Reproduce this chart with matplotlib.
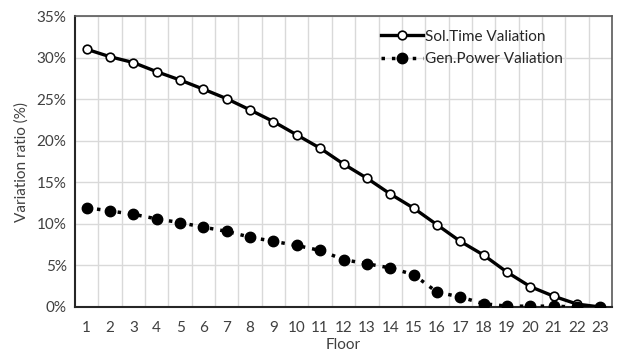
import matplotlib.pyplot as plt
from matplotlib.ticker import FuncFormatter, MultipleLocator

floors = list(range(1, 24))
sol_time = [31.0, 30.1, 29.4, 28.3, 27.3, 26.2, 25.05, 23.7, 22.3, 20.7,
            19.1, 17.2, 15.5, 13.6, 11.9, 9.9, 7.9, 6.25, 4.2, 2.45,
            1.3, 0.35, 0.0]
gen_power = [11.95, 11.55, 11.15, 10.6, 10.15, 9.6, 9.1, 8.4, 7.9, 7.4,
             6.8, 5.7, 5.2, 4.7, 3.9, 1.8, 1.2, 0.4, 0.1, 0.1,
             0.1, 0.0, 0.0]

plt.rcParams['font.family'] = ['Lato', 'DejaVu Sans']

fig = plt.figure(figsize=(6.18, 3.54), dpi=100)
ax = fig.add_axes([75 / 618, 47 / 354, 537 / 618, 291 / 354])

ax.plot(floors, sol_time, color='black', lw=2.4, marker='o', ms=6.2,
        mfc='white', mec='black', mew=1.2, label='Sol.Time Valiation', zorder=3)
ax.plot(floors, gen_power, color='black', lw=2.5, ls=(0, (1, 2)), marker='o',
        ms=7.5, mfc='black', mec='black', label='Gen.Power Valiation', zorder=3)

ax.set_xlim(0.5, 23.5)
ax.set_ylim(0, 35)
ax.set_xticks(floors)
ax.set_xticks([f + 0.5 for f in floors[:-1]], minor=True)
ax.yaxis.set_major_locator(MultipleLocator(5))
ax.yaxis.set_major_formatter(FuncFormatter(lambda v, p: f'{v:.0f}%'))
ax.grid(False)
ax.grid(True, which='minor', axis='x', color='#d9d9d9', lw=1)
ax.grid(True, which='major', axis='y', color='#d9d9d9', lw=1)
ax.set_axisbelow(True)
ax.tick_params(which='both', length=0, labelsize=11, colors='#404040', pad=10)
ax.tick_params(axis='y', pad=6)

for side in ['top', 'right']:
    ax.spines[side].set_color('#595959')
    ax.spines[side].set_linewidth(1.2)
for side in ['left', 'bottom']:
    ax.spines[side].set_color('#262626')
    ax.spines[side].set_linewidth(1.5)

ax.set_xlabel('Floor', fontsize=11, color='#404040', labelpad=2)
ax.set_ylabel('Variation ratio (%)', fontsize=11, color='#404040', labelpad=6)

ax.legend(loc='upper left', bbox_to_anchor=(0.545, 1.0), frameon=False,
          fontsize=11, handlelength=2.7, handletextpad=0.15, labelspacing=0.55,
          labelcolor='#262626')

fig.savefig('out.png', dpi=100)
